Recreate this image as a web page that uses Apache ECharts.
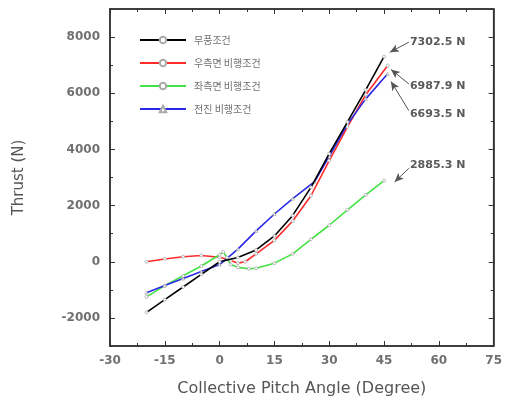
<!DOCTYPE html>
<html><head><meta charset="utf-8">
<script src="https://cdn.jsdelivr.net/npm/echarts@6/dist/echarts.min.js"></script>
<style>html,body{margin:0;padding:0;background:#fff}#c{width:505px;height:402px}</style>
</head><body><div id="c"></div>
<script>
var seriesNames = ['무풍조건', '우측면 비행조건', '좌측면 비행조건', '전진 비행조건'];
var blackAngle = [-20,-15,-10,-5,0,5,10,15,20,25,30,35,40,45];
var blackThrust = [-1800,-1350,-900,-450,0,150,420,920,1650,2650,3850,4980,6120,7302.5];
var redAngle = [-20,-15,-10,-5,0,3,5,7,10,15,20,25,30,35,40,46];
var redThrust = [0,100,180,220,160,50,-50,0,280,760,1450,2350,3600,4800,5950,6987.9];
var greenAngle = [-20,-15,-10,-5,0,1,2,3,5,8,10,15,20,25,30,35,40,45];
var greenThrust = [-1250,-850,-500,-150,250,350,150,-100,-200,-250,-230,-50,280,800,1300,1850,2380,2885.3];
var blueAngle = [-20,-15,-10,-5,0,5,10,15,20,26,30,35,40,46];
var blueThrust = [-1100,-850,-600,-350,-100,450,1100,1700,2250,2850,3750,4900,5800,6693.5];
var xTicks = [-30,-15,0,15,30,45,60,75];
var yTicks = [-2000,0,2000,4000,6000,8000];
var yMinorTicks = [-3000,-1000,1000,3000,5000,7000,9000];
var labelPos = [[51,7825],[51,6245],[51,5263],[51,3440]];
var arrowFrom = [[51.8,7820],[51.8,6330],[51.8,5380],[51.8,3330]];
var arrowTo = [[46.6,7460],[46.9,6850],[46.9,6420],[47.9,2840]];

var colors = ['#000000','#ff2a2a','#44e244','#2a2ae6'];
var symbols = ['circle','circle','circle','triangle'];
var angles = [blackAngle, redAngle, greenAngle, blueAngle];
var thrusts = [blackThrust, redThrust, greenThrust, blueThrust];
var labelOrder = [0,1,3,2];

function pairs(a,b){return a.map(function(x,i){return [x,b[i]];});}

var axisColor = '#333';
var tickFont = {fontFamily:'DejaVu Sans', fontSize:12, fontWeight:'bold', color:'#707070',
  formatter:function(v){return String(v);}};

var series = seriesNames.map(function(n,i){
  var last = thrusts[i][thrusts[i].length-1];
  var li = labelOrder.indexOf(i);
  return {
    name:n, type:'line', data:pairs(angles[i],thrusts[i]),
    symbol:symbols[i], symbolSize:3, showSymbol:true,
    itemStyle:{color:'#fff', borderColor:'#aaa', borderWidth:0.8},
    lineStyle:{color:colors[i], width:1.6},
    color:colors[i],
    z: i===0?5:3,
    markPoint:{symbol:'circle', symbolSize:0, silent:true,
      data:[{coord:labelPos[li], value:last}],
      label:{show:true, position:'right', distance:4, formatter:function(p){return p.value+' N';},
        fontFamily:'DejaVu Sans', fontSize:11, fontWeight:'bold', color:'#5a5a5a'}},
    markLine:{silent:true, symbol:['none','arrow'], symbolSize:[6,9],
      lineStyle:{color:'#555', width:1, type:'solid'}, label:{show:false},
      data:[[{coord:arrowFrom[li]},{coord:arrowTo[li]}]]}
  };
});

var option = {
  animation:false,
  backgroundColor:'#fff',
  grid:{left:110, right:8, top:9, bottom:52, show:true, borderColor:axisColor, borderWidth:1.5, containLabel:false},
  legend:{
    orient:'vertical', left:134, top:30, itemWidth:46, itemHeight:8, itemGap:13,
    data:seriesNames,
    textStyle:{fontFamily:'Noto Sans CJK KR', fontSize:10, color:'#707070', padding:[0,0,0,3]}
  },
  xAxis:[{
    type:'value', min:-30, max:75, interval:15,
    name:'Collective Pitch Angle (Degree)', nameLocation:'middle', nameGap:35,
    nameTextStyle:{fontFamily:'DejaVu Sans', fontSize:16, color:'#555'},
    axisLine:{show:true, onZero:false, lineStyle:{color:axisColor, width:1.5}},
    axisTick:{show:true, inside:true, length:5, lineStyle:{color:axisColor}},
    minorTick:{show:true, splitNumber:2, length:3, lineStyle:{color:axisColor}},
    splitLine:{show:false}, minorSplitLine:{show:false},
    axisLabel:Object.assign({margin:9, customValues:xTicks}, tickFont)
  },{
    type:'value', position:'top', min:-30, max:75, interval:15,
    axisLine:{show:true, onZero:false, lineStyle:{color:axisColor, width:1.5}},
    axisTick:{show:true, inside:true, length:5, lineStyle:{color:axisColor}},
    minorTick:{show:true, splitNumber:2, length:3, lineStyle:{color:axisColor}},
    splitLine:{show:false}, axisLabel:{show:false}
  }],
  yAxis:[{
    type:'value', min:-3000, max:9000, interval:1000,
    name:'Thrust (N)', nameLocation:'middle', nameGap:83,
    nameTextStyle:{fontFamily:'DejaVu Sans', fontSize:15, color:'#555'},
    axisLine:{show:true, onZero:false, lineStyle:{color:axisColor, width:1.5}},
    axisTick:{show:true, inside:true, length:5, customValues:yTicks, lineStyle:{color:axisColor}},
    splitLine:{show:false},
    axisLabel:Object.assign({margin:10, customValues:yTicks}, tickFont)
  },{
    type:'value', min:-3000, max:9000, interval:1000, position:'left',
    axisLine:{show:false, onZero:false},
    axisTick:{show:true, inside:true, length:3, customValues:yMinorTicks, lineStyle:{color:axisColor}},
    splitLine:{show:false}, axisLabel:{show:false}
  },{
    type:'value', min:-3000, max:9000, interval:1000, position:'right',
    axisLine:{show:true, onZero:false, lineStyle:{color:axisColor, width:1.5}},
    axisTick:{show:true, inside:true, length:5, customValues:yTicks, lineStyle:{color:axisColor}},
    splitLine:{show:false}, axisLabel:{show:false}
  },{
    type:'value', min:-3000, max:9000, interval:1000, position:'right',
    axisLine:{show:false, onZero:false},
    axisTick:{show:true, inside:true, length:3, customValues:yMinorTicks, lineStyle:{color:axisColor}},
    splitLine:{show:false}, axisLabel:{show:false}
  }],
  series:series
};
var chart = echarts.init(document.getElementById('c'), null, {renderer:'canvas'});
chart.setOption(option);
</script></body></html>
